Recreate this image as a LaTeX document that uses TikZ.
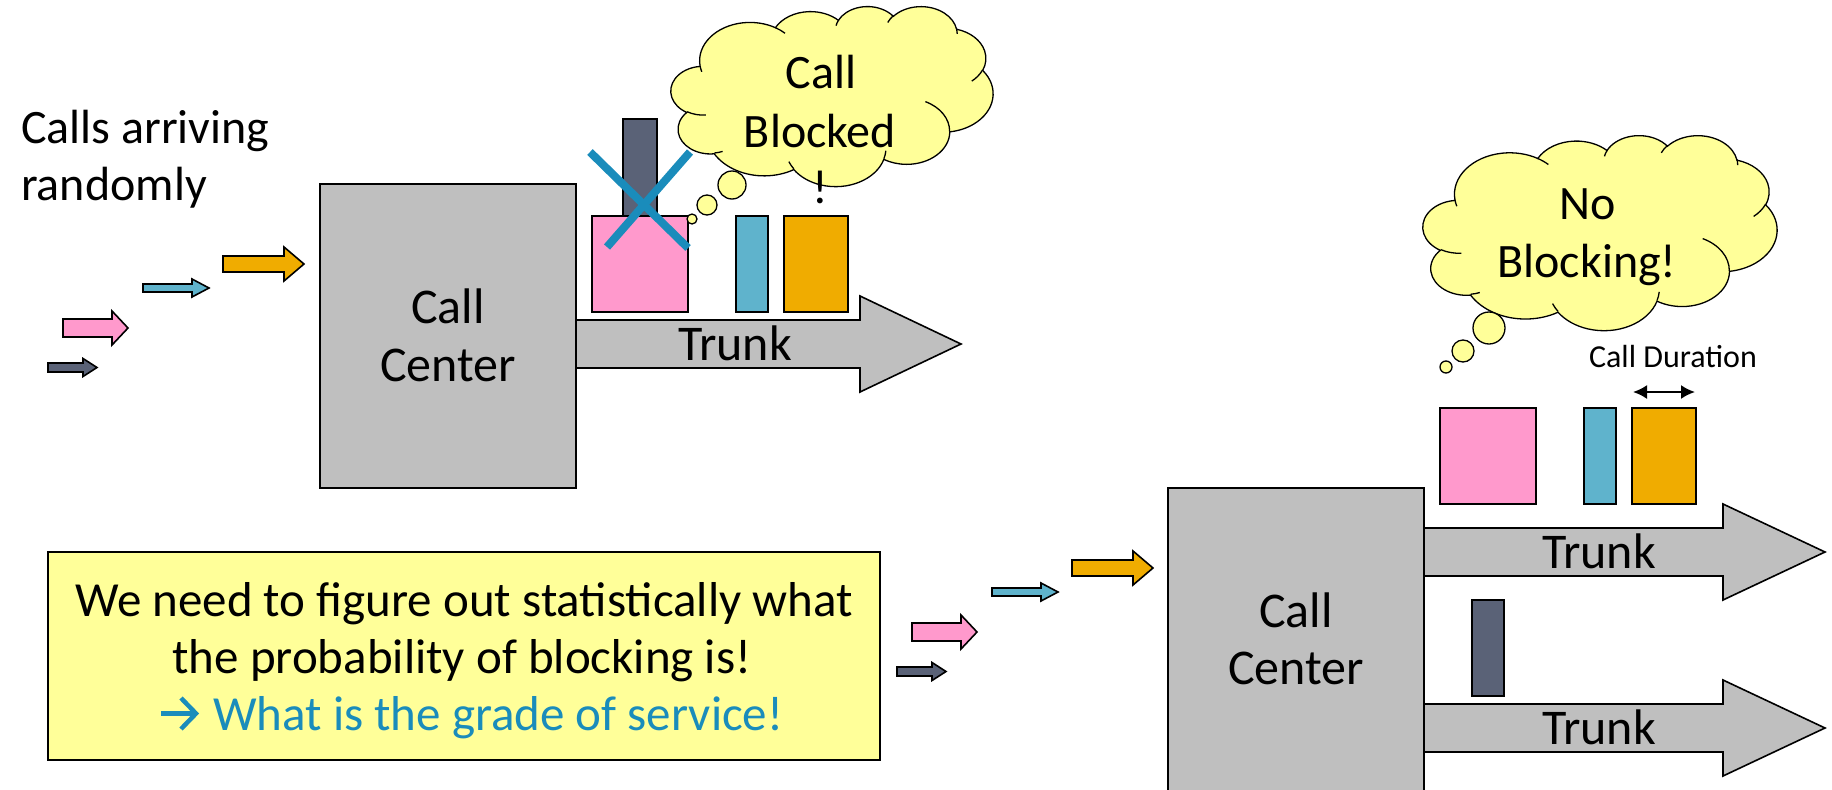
\documentclass[tikz,border=0pt]{standalone}
\usepackage{fontspec}
\setmainfont{Carlito}
\usetikzlibrary{arrows.meta}
\definecolor{ccgray}{HTML}{BFBFBF}
\definecolor{cpink}{HTML}{FF99CC}
\definecolor{cblue}{HTML}{5FB3CC}
\definecolor{corange}{HTML}{F0AC00}
\definecolor{cdark}{HTML}{5A6277}
\definecolor{cyellow}{HTML}{FFFF99}
\definecolor{xblue}{HTML}{1A8CBB}

% arc of a DrawingML-style cloud: wR hR stAng swAng (true angles)
\newcommand\cldarc[4]{%
  \pgfmathsetmacro\cldA{atan2((#1)*sin(#3),(#2)*cos(#3))}%
  \pgfmathsetmacro\cldB{atan2((#1)*sin((#3)+(#4)),(#2)*cos((#3)+(#4)))}%
  \pgfmathsetmacro\cldD{\cldB-\cldA}%
  \pgfmathsetmacro\cldD{\cldD+360*((#4)>0)*(\cldD<0)-360*((#4)<0)*(\cldD>0)}%
  \xdef\cldpath{\cldpath arc[start angle=\cldA, delta angle=\cldD, x radius=#1, y radius=#2]}%
}
\newcommand\cldinner[6]{%
  \pgfmathsetmacro\cldA{atan2((#3)*sin(#5),(#4)*cos(#5))}%
  \pgfmathsetmacro\cldB{atan2((#3)*sin((#5)+(#6)),(#4)*cos((#5)+(#6)))}%
  \pgfmathsetmacro\cldD{\cldB-\cldA}%
  \pgfmathsetmacro\cldD{\cldD+360*((#6)>0)*(\cldD<0)-360*((#6)<0)*(\cldD>0)}%
  \draw[cloudline] (#1,#2) arc[start angle=\cldA, delta angle=\cldD, x radius=#3, y radius=#4];%
}
\newcommand\cloudshape[4]{% x0 y0 W H
  \pgfmathsetmacro\cldsx{#3/432}%
  \pgfmathsetmacro\cldsy{#4/432}%
  \begin{scope}[shift={(#1,#2)}, x=\cldsx pt, y=-\cldsy pt]
    \xdef\cldpath{(39.00,143.70)}%
    \cldarc{67.53}{91.90}{-190.4875}{123.7805}%
    \cldarc{53.33}{72.67}{-144.1024}{89.9452}%
    \cldarc{43.65}{59.45}{-145.8079}{99.7230}%
    \cldarc{48.57}{65.95}{-130.9861}{117.2417}%
    \cldarc{53.33}{72.73}{-78.7089}{109.0269}%
    \cldarc{67.75}{92.20}{-46.2673}{130.2690}%
    \cldarc{57.85}{78.67}{0.6250}{114.0333}%
    \cldarc{67.52}{92.15}{22.4516}{115.1726}%
    \cldarc{77.20}{105.43}{66.2426}{75.7110}%
    \cldarc{43.60}{59.18}{-274.9421}{146.7356}%
    \cldarc{43.45}{59.45}{-246.8285}{152.5189}%
    \draw[cloudline, fill=cyellow] \cldpath -- cycle;
    \cldinner{46.93}{261.77}{43.45}{59.45}{86.7420}{26.4295}
    \cldinner{69.28}{348.99}{43.60}{59.18}{73.6105}{11.4475}
    \cldinner{164.78}{390.90}{67.52}{92.15}{137.6242}{14.0811}
    \cldinner{288.27}{347.51}{67.52}{92.15}{6.4533}{15.9984}
    \cldinner{341.29}{229.54}{57.85}{78.67}{-70.2924}{70.9174}
    \cldinner{417.98}{153.54}{53.33}{72.73}{30.3180}{27.7515}
    \cldinner{383.24}{54.26}{48.57}{65.95}{-13.7443}{14.8589}
    \cldinner{290.78}{39.52}{48.57}{65.95}{-149.1815}{18.1954}
    \cldinner{221.41}{47.20}{43.65}{59.45}{-163.4943}{17.6864}
    \cldinner{140.00}{51.92}{67.53}{91.90}{-66.7070}{12.3194}
    \cldinner{41.27}{157.89}{67.53}{91.90}{157.6544}{11.8582}
  \end{scope}%
}
% block arrow: style, x0, xhead, xtip, ycenter, half body, half head
\newcommand\blockarr[7]{%
  \draw[#1] (#2,{#5-#6}) -- (#3,{#5-#6}) -- (#3,{#5-#7}) -- (#4,#5)
    -- (#3,{#5+#7}) -- (#3,{#5+#6}) -- (#2,{#5+#6}) -- cycle;}
\newcommand\incoming[2]{%
  \begin{scope}[shift={(#1,#2)}]
    \blockarr{small, fill=corange}{223}{284}{304}{264}{8}{17}
    \blockarr{small, fill=cblue}{143}{192}{209}{288}{4}{9}
    \blockarr{small, fill=cpink}{63}{112}{128}{328}{9}{17}
    \blockarr{small, fill=cdark}{48}{83}{97}{367.5}{4.5}{9}
  \end{scope}}

\tikzset{
  cloudline/.style={draw=black, line width=1.3pt},
  small/.style={draw=black, line width=1.6pt, line join=miter},
  trunk/.style={draw=black, fill=ccgray, line width=1.6pt, line join=miter},
  block/.style={draw=black, line width=1.6pt},
  bubble/.style={draw=black, fill=cyellow, line width=1.3pt},
  big/.style={font=\fontsize{50}{57}\selectfont, inner sep=0pt, anchor=base},
  cloudtxt/.style={font=\fontsize{48}{58}\selectfont, inner sep=0pt, anchor=base},
  boxtxt/.style={font=\fontsize{49}{57}\selectfont, inner sep=0pt, anchor=base},
}

\begin{document}
\begin{tikzpicture}[x=1pt, y=-1pt]
\path[use as bounding box] (0,0) rectangle (1832,790);

% ---------- top scene ----------
\node[big, font=\fontsize{48}{57}\selectfont, anchor=base west] (calls1) at (21,143) {Calls arriving};
\node[big, font=\fontsize{48}{57}\selectfont, anchor=base west] (calls2) at (21,200) {randomly};
\incoming{0}{0}

\blockarr{trunk}{576}{860}{961}{344}{24}{48}
\draw[trunk] (320,184) rectangle (576,488);
\node[big] (cc1a) at (448,323) {Call};
\node[big] (cc1b) at (448,381) {Center};
\node[big] (tr1) at (735,360) {Trunk};

\draw[block, fill=cdark] (623,119) rectangle (657,217);
\draw[block, fill=cpink] (592,216) rectangle (688,312);
\draw[block, fill=cblue] (736,216) rectangle (768,312);
\draw[block, fill=corange] (784,216) rectangle (848,312);
\draw[xblue, line width=8pt] (590,152) -- (688,248);
\draw[xblue, line width=8pt] (690,152) -- (607,247);

\cloudshape{671}{6}{322}{180}
\draw[bubble] (732,185) circle[radius=14pt];
\draw[bubble] (707,205) circle[radius=10pt];
\draw[bubble] (692,219) circle[radius=5pt];
\node[cloudtxt] (cb1) at (821,88) {Call};
\node[cloudtxt] (cb2) at (820,147) {Blocked};
\node[cloudtxt] (cb3) at (820,203) {!};

% ---------- text box ----------
\draw[draw=black, fill=cyellow, line width=1.6pt] (48,552) rectangle (880,760);
\node[boxtxt] (t1) at (464,616) {We need to figure out statistically what};
\node[boxtxt] (t2) at (462,673) {the probability of blocking is!};
\node[boxtxt, anchor=base west, text=xblue] (t3) at (213,730) {What is the grade of service!};
\coordinate (arS) at (161,713.5);
\coordinate (arE) at (196,713.5);
\coordinate (arU) at (181,698);
\coordinate (arD) at (181,729);
\draw[xblue, line width=4.5pt] (arS) -- (arE);
\draw[xblue, line width=4.5pt, line join=miter] (arU) -- (arE) -- (arD);

% ---------- bottom scene ----------
\incoming{849}{304}
\blockarr{trunk}{1424}{1723}{1825}{552}{24}{48}
\blockarr{trunk}{1424}{1723}{1825}{728}{24}{48}
\draw[trunk] (1168,795) -- (1168,488) -- (1424,488) -- (1424,795);
\node[big] (cc2a) at (1296,627) {Call};
\node[big] (cc2b) at (1296,684) {Center};
\node[big] (tr2) at (1599,568) {Trunk};
\node[big] (tr3) at (1599,744) {Trunk};

\draw[block, fill=cpink] (1440,408) rectangle (1536,504);
\draw[block, fill=cblue] (1584,408) rectangle (1616,504);
\draw[block, fill=corange] (1632,408) rectangle (1696,504);
\draw[block, fill=cdark] (1472,600) rectangle (1504,696);

\coordinate (durL) at (1633,392);
\coordinate (durR) at (1695,392);
\draw[line width=2pt, {Latex[length=14pt,width=14pt]}-{Latex[length=14pt,width=14pt]}] (durL) -- (durR);
\node[font=\fontsize{32}{36}\selectfont, inner sep=0pt, anchor=base] (dur) at (1673,367) {Call Duration};

\cloudshape{1423}{135}{354}{195}
\draw[bubble] (1489,328) circle[radius=16pt];
\draw[bubble] (1463,351) circle[radius=11pt];
\draw[bubble] (1446,367) circle[radius=6pt];
\node[cloudtxt] (nb1) at (1588,219) {No};
\node[cloudtxt] (nb2) at (1587,277) {Blocking!};
\end{tikzpicture}
\end{document}
